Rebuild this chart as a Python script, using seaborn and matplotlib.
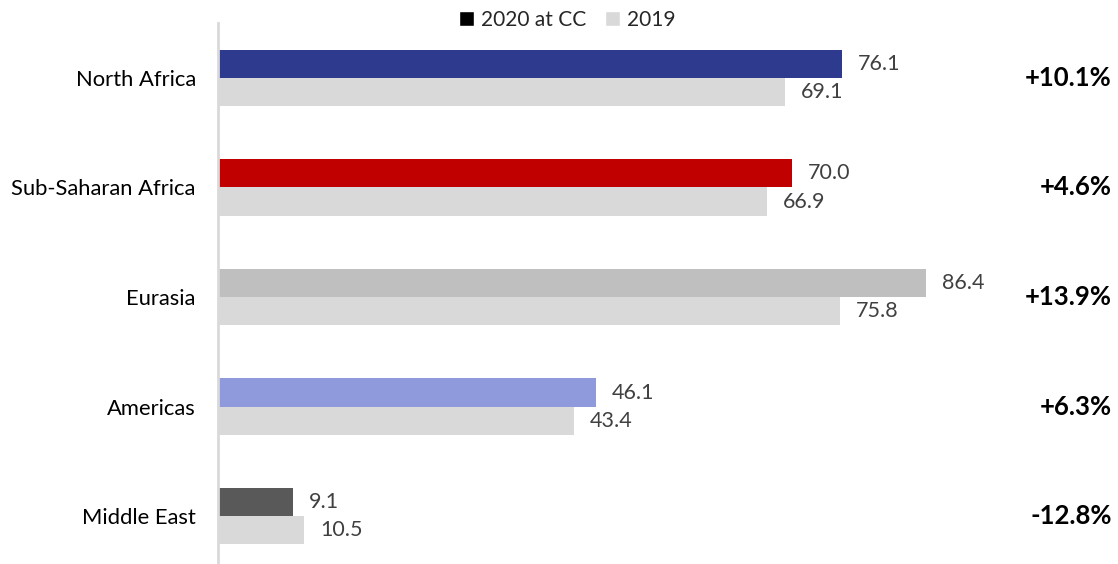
import matplotlib
matplotlib.use("Agg")
import matplotlib.pyplot as plt
import seaborn as sns
import pandas as pd
from matplotlib.patches import Patch

regions = ["North Africa", "Sub-Saharan Africa", "Eurasia", "Americas", "Middle East"]
values_2020 = [76.1, 70.0, 86.4, 46.1, 9.1]
values_2019 = [69.1, 66.9, 75.8, 43.4, 10.5]
changes = ["+10.1%", "+4.6%", "+13.9%", "+6.3%", "-12.8%"]
series = ["2020 at CC", "2019"]
colors_2020 = ["#2E3A8E", "#C00000", "#BFBFBF", "#8E9ADB", "#595959"]
color_2019 = "#D9D9D9"

sns.set_theme(style="white")
plt.rcParams["font.family"] = ["Lato", "DejaVu Sans"]

df = pd.DataFrame({
    "region": regions * 2,
    "year": [series[0]] * len(regions) + [series[1]] * len(regions),
    "value": values_2020 + values_2019,
})

fig = plt.figure(figsize=(11.18, 5.64), dpi=100)
W, H = 1118, 564
ax = fig.add_axes([218 / W, 0, (1000 - 218) / W, 1 - 23 / H])

sns.barplot(data=df, y="region", x="value", hue="year", order=regions,
            hue_order=series, palette=["#000000", color_2019], orient="h",
            width=0.512, dodge=True, ax=ax, legend=False, saturation=1)

bars_2020 = ax.containers[0]
bars_2019 = ax.containers[1]
for p, c in zip(bars_2020, colors_2020):
    p.set_facecolor(c)
    p.set_edgecolor("none")
for p in bars_2019:
    p.set_edgecolor("none")

ax.set_xlim(0, (1000 - 218) / 8.2)
ax.set_ylim(4.438, -0.502)

for cont, vals in [(bars_2020, values_2020), (bars_2019, values_2019)]:
    for p, v in zip(cont, vals):
        ax.annotate(f"{v:.1f}", xy=(v, p.get_y() + p.get_height() / 2),
                    xytext=(16, 0), textcoords="offset pixels",
                    va="center", ha="left", fontsize=15.5, color="#404040")

for i, ch in enumerate(changes):
    ax.annotate(ch, xy=(1112 / W, i), xycoords=("figure fraction", "data"),
                ha="right", va="center", fontsize=18.5, fontweight="bold", color="#000000")

ax.set_xlabel("")
ax.set_ylabel("")
ax.set_xticks([])
ax.tick_params(axis="y", length=0, pad=16, labelsize=15.8, labelcolor="#000000")
for s in ["top", "right", "bottom"]:
    ax.spines[s].set_visible(False)
ax.spines["left"].set_color("#D9D9D9")
ax.spines["left"].set_linewidth(2)

handles = [Patch(facecolor="#000000", label=series[0]),
           Patch(facecolor=color_2019, label=series[1])]
fig.legend(handles=handles, loc="center", bbox_to_anchor=(567 / W, 1 - 20 / H), ncol=2,
           frameon=False, fontsize=15, handlelength=0.75, handleheight=0.75,
           handletextpad=0.3, columnspacing=0.9)

fig.savefig("out.png", dpi=100)
